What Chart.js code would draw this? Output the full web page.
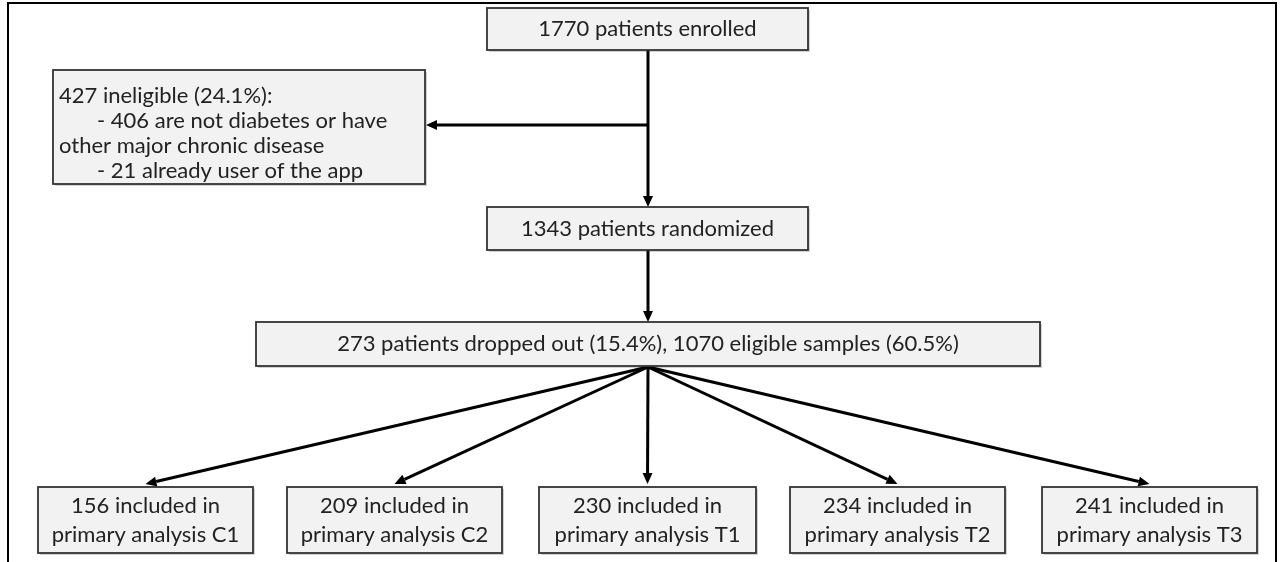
<!DOCTYPE html>
<html>
<head>
<meta charset="utf-8">
<script src="https://cdn.jsdelivr.net/npm/chart.js@4.4.1/dist/chart.umd.min.js"></script>
<style>
  html, body { margin: 0; padding: 0; background: #ffffff; }
  #wrap { width: 1283px; height: 562px; }
</style>
</head>
<body>
<div id="wrap"><canvas id="c" width="1283" height="562"></canvas></div>
<script>
// ---------- data ----------
const enrolled = 1770;
const ineligible = 427;
const ineligiblePct = '24.1%';
const ineligibleReasons = ['406 are not diabetes or have', 'other major chronic disease', '21 already user of the app'];
const randomized = 1343;
const droppedOut = 273;
const droppedPct = '15.4%';
const eligible = 1070;
const eligiblePct = '60.5%';
const groups = ['C1', 'C2', 'T1', 'T2', 'T3'];
const groupCounts = [156, 209, 230, 234, 241];

// ---------- layout (in scale units, x: 0..1283, y: 0..562 top-down) ----------
const L = {
  enrolled:   { x0: 487, x1: 808, y0: 8, y1: 50 },
  ineligible: { x0: 53,  x1: 425, y0: 70, y1: 184 },
  randomized: { x0: 487, x1: 808, y0: 207, y1: 250 },
  dropped:    { x0: 256, x1: 1040, y0: 322, y1: 366 },
  groupBoxes: [
    { x0: 38,   x1: 253 }, { x0: 287, x1: 502 }, { x0: 539, x1: 756 },
    { x0: 790,  x1: 1005 }, { x0: 1042, x1: 1257 }
  ],
  groupY0: 487, groupY1: 553,
  spineX: 648, sideArrowY: 125
};

const FONT = '22px Lato, "Open Sans", sans-serif';

const flowPlugin = {
  id: 'flow',
  afterDraw(chart) {
    const ctx = chart.ctx;
    const sx = chart.scales.x, sy = chart.scales.y;
    const X = v => sx.getPixelForValue(v);
    const Y = v => sy.getPixelForValue(v);

    ctx.save();
    // outer frame (open at bottom)
    ctx.strokeStyle = '#000';
    ctx.lineWidth = 2;
    ctx.beginPath();
    ctx.moveTo(X(8), Y(562));
    ctx.lineTo(X(8), Y(3));
    ctx.lineTo(X(1276), Y(3));
    ctx.lineTo(X(1276), Y(562));
    ctx.stroke();

    function box(b) {
      const x = X(b.x0), y = Y(b.y0), w = X(b.x1) - X(b.x0), h = Y(b.y1) - Y(b.y0);
      ctx.fillStyle = 'rgba(0,0,0,0.18)';
      ctx.fillRect(x + 2, y + 2, w, h);
      ctx.fillStyle = '#f2f2f2';
      ctx.fillRect(x, y, w, h);
      ctx.strokeStyle = '#333333';
      ctx.lineWidth = 1.8;
      ctx.strokeRect(x, y, w, h);
    }
    function arrow(x0, y0, x1, y1) {
      const ax0 = X(x0), ay0 = Y(y0), ax1 = X(x1), ay1 = Y(y1);
      const ang = Math.atan2(ay1 - ay0, ax1 - ax0);
      const hl = 11, hw = 5;
      const bx = ax1 - hl * Math.cos(ang), by = ay1 - hl * Math.sin(ang);
      ctx.strokeStyle = '#000';
      ctx.lineWidth = 3;
      ctx.beginPath();
      ctx.moveTo(ax0, ay0);
      ctx.lineTo(bx, by);
      ctx.stroke();
      ctx.fillStyle = '#000';
      ctx.beginPath();
      ctx.moveTo(ax1, ay1);
      ctx.lineTo(bx + hw * Math.sin(ang), by - hw * Math.cos(ang));
      ctx.lineTo(bx - hw * Math.sin(ang), by + hw * Math.cos(ang));
      ctx.closePath();
      ctx.fill();
    }
    function line(x0, y0, x1, y1) {
      ctx.strokeStyle = '#000';
      ctx.lineWidth = 3;
      ctx.beginPath();
      ctx.moveTo(X(x0), Y(y0));
      ctx.lineTo(X(x1), Y(y1));
      ctx.stroke();
    }
    function centerText(b, lines, lh) {
      ctx.fillStyle = '#222222';
      ctx.font = FONT;
      ctx.textAlign = 'center';
      ctx.textBaseline = 'middle';
      const cx = (X(b.x0) + X(b.x1)) / 2;
      const cy = (Y(b.y0) + Y(b.y1)) / 2;
      lines.forEach((t, i) => {
        ctx.fillText(t, cx, cy + (i - (lines.length - 1) / 2) * lh);
      });
    }

    // connectors
    line(L.spineX, L.enrolled.y1, L.spineX, L.sideArrowY);
    arrow(L.spineX, L.sideArrowY, L.ineligible.x1 + 1, L.sideArrowY);
    arrow(L.spineX, L.sideArrowY, L.spineX, L.randomized.y0);
    arrow(L.spineX, L.randomized.y1, L.spineX, L.dropped.y0);
    L.groupBoxes.forEach(g => {
      const cx = (g.x0 + g.x1) / 2;
      arrow(L.spineX, L.dropped.y1 + 1, cx, L.groupY0 - 3);
    });

    // boxes
    box(L.enrolled);
    centerText(L.enrolled, [enrolled + ' patients enrolled'], 28);

    box(L.ineligible);
    ctx.fillStyle = '#222222';
    ctx.font = FONT;
    ctx.textAlign = 'left';
    ctx.textBaseline = 'middle';
    const tl = X(L.ineligible.x0) + 6;
    const inelLines = [
      { t: ineligible + ' ineligible (' + ineligiblePct + '):', ind: 0 },
      { t: '- ' + ineligibleReasons[0], ind: 38 },
      { t: ineligibleReasons[1], ind: 0 },
      { t: '- ' + ineligibleReasons[2], ind: 38 }
    ];
    const icy = (Y(L.ineligible.y0) + Y(L.ineligible.y1)) / 2 + 6;
    inelLines.forEach((o, i) => ctx.fillText(o.t, tl + o.ind, icy + (i - 1.5) * 25));

    box(L.randomized);
    centerText(L.randomized, [randomized + ' patients randomized'], 28);

    box(L.dropped);
    centerText(L.dropped, [droppedOut + ' patients dropped out (' + droppedPct + '), ' + eligible + ' eligible samples (' + eligiblePct + ')'], 28);

    L.groupBoxes.forEach((g, i) => {
      const b = { x0: g.x0, x1: g.x1, y0: L.groupY0, y1: L.groupY1 };
      box(b);
      centerText(b, [groupCounts[i] + ' included in', 'primary analysis ' + groups[i]], 29);
    });
    ctx.restore();
  }
};

new Chart(document.getElementById('c'), {
  type: 'scatter',
  data: {
    datasets: [{
      label: 'groups',
      data: groups.map((g, i) => ({ x: (L.groupBoxes[i].x0 + L.groupBoxes[i].x1) / 2, y: (L.groupY0 + L.groupY1) / 2 })),
      pointRadius: 0,
      showLine: false
    }]
  },
  options: {
    responsive: false,
    animation: false,
    devicePixelRatio: 1,
    layout: { padding: 0 },
    plugins: { legend: { display: false }, tooltip: { enabled: false } },
    scales: {
      x: { type: 'linear', min: 0, max: 1283, display: false },
      y: { type: 'linear', min: 0, max: 562, reverse: true, display: false }
    }
  },
  plugins: [flowPlugin]
});
</script>
</body>
</html>
